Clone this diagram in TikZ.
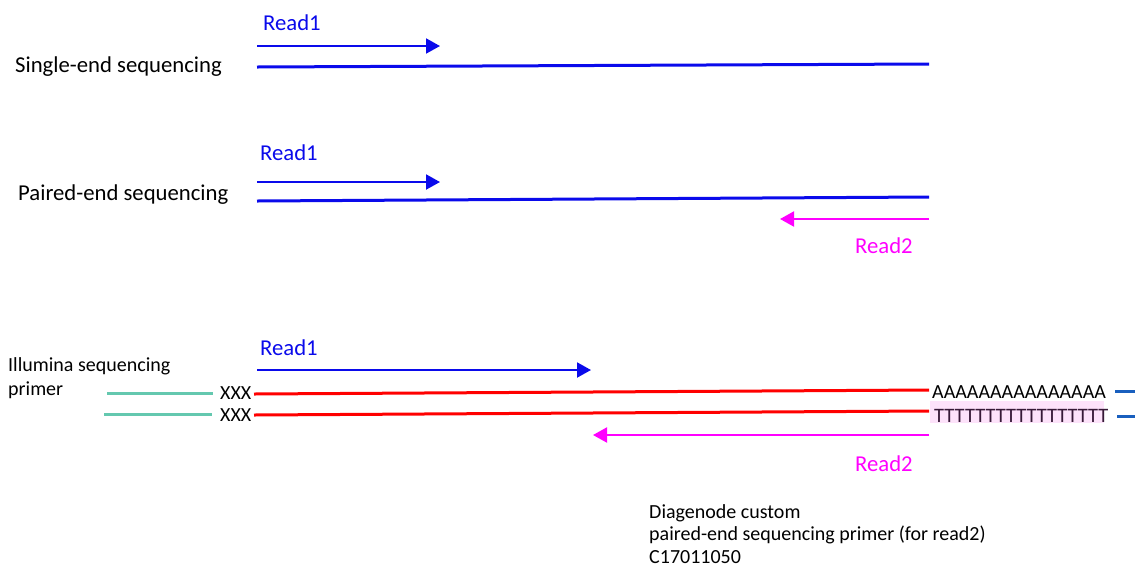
\documentclass[tikz,border=0pt]{standalone}
\usepackage{fontspec}
\setmainfont{Carlito}
\usetikzlibrary{arrows.meta}
\definecolor{rdblue}{RGB}{10,10,235}
\definecolor{rdmag}{RGB}{255,0,255}
\definecolor{rdred}{RGB}{255,0,0}
\definecolor{rdteal}{RGB}{100,200,175}
\definecolor{rdside}{RGB}{25,95,190}
\definecolor{rdpink}{RGB}{253,226,250}
\definecolor{rdtt}{RGB}{55,25,55}
\tikzset{
  lbl/.style={inner sep=0pt, anchor=base west, font=\fontsize{22.7}{26}\selectfont},
  sml/.style={inner sep=0pt, anchor=base west, font=\fontsize{20}{24}\selectfont},
  readarrow/.style={line width=2pt, -{Triangle[length=14pt,width=15pt]}},
  strand/.style={line width=3pt},
}
\begin{document}
\begin{tikzpicture}[x=1pt,y=-1pt]
\useasboundingbox (0,0) rectangle (1135,566);
% ---- single-end
\node[lbl, text=rdblue] (r1a) at (263,30) {Read1};
\node[lbl] (se) at (15,72) {Single-end sequencing};
\coordinate (a1s) at (257,46); \coordinate (a1e) at (440,46);
\draw[readarrow, rdblue] (a1s) -- (a1e);
\coordinate (s1s) at (257,67); \coordinate (s1e) at (929,64);
\draw[strand, rdblue] (s1s) -- (s1e);
% ---- paired-end
\node[lbl, text=rdblue] (r1b) at (260,160) {Read1};
\node[lbl] (pe) at (18,200) {Paired-end sequencing};
\coordinate (a2s) at (257,182); \coordinate (a2e) at (440,182);
\draw[readarrow, rdblue] (a2s) -- (a2e);
\coordinate (s2s) at (257,201); \coordinate (s2e) at (929,197);
\draw[strand, rdblue] (s2s) -- (s2e);
\coordinate (m2s) at (929,219); \coordinate (m2e) at (780,219);
\draw[readarrow, rdmag] (m2s) -- (m2e);
\node[lbl, text=rdmag] (r2a) at (855,253) {Read2};
% ---- custom
\node[lbl, text=rdblue] (r1c) at (260,355) {Read1};
\coordinate (a3s) at (257,370); \coordinate (a3e) at (591,370);
\draw[readarrow, rdblue] (a3s) -- (a3e);
\node[sml] (ill1) at (8,371) {Illumina sequencing};
\node[sml] (ill2) at (8,395) {primer};
\coordinate (t1s) at (107,393); \coordinate (t1e) at (213,393);
\coordinate (t2s) at (104,414); \coordinate (t2e) at (212,414);
\draw[strand, rdteal] (t1s) -- (t1e);
\draw[strand, rdteal] (t2s) -- (t2e);
\node[sml] (x1) at (220,399) {XXX};
\node[sml] (x2) at (220,421) {XXX};
\fill[rdpink] (930,401) rectangle (1104,423);
\node[sml] (pa) at (932,398) {AAAAAAAAAAAAAAA};
\node[sml, text=rdtt, font=\fontsize{20.5}{24}\selectfont] (pt) at (934,422) {TTTTTTTTTTTTTTTTT};
\coordinate (rd1s) at (254,394); \coordinate (rd1e) at (929,390);
\coordinate (rd2s) at (254,415); \coordinate (rd2e) at (929,411);
\draw[strand, rdred] (rd1s) -- (rd1e);
\draw[strand, rdred] (rd2s) -- (rd2e);
\coordinate (b1s) at (1115,391); \coordinate (b1e) at (1135,391);
\coordinate (b2s) at (1117,416); \coordinate (b2e) at (1135,416);
\draw[strand, rdside] (b1s) -- (b1e);
\draw[strand, rdside] (b2s) -- (b2e);
\coordinate (m3s) at (929,435); \coordinate (m3e) at (593,435);
\draw[readarrow, rdmag] (m3s) -- (m3e);
\node[lbl, text=rdmag] (r2b) at (855,471) {Read2};
\node[sml] (dg1) at (649,518) {Diagenode custom};
\node[sml] (dg2) at (649,540.5) {paired-end sequencing primer (for read2)};
\node[sml] (dg3) at (649,563) {C17011050};
\end{tikzpicture}
\end{document}
